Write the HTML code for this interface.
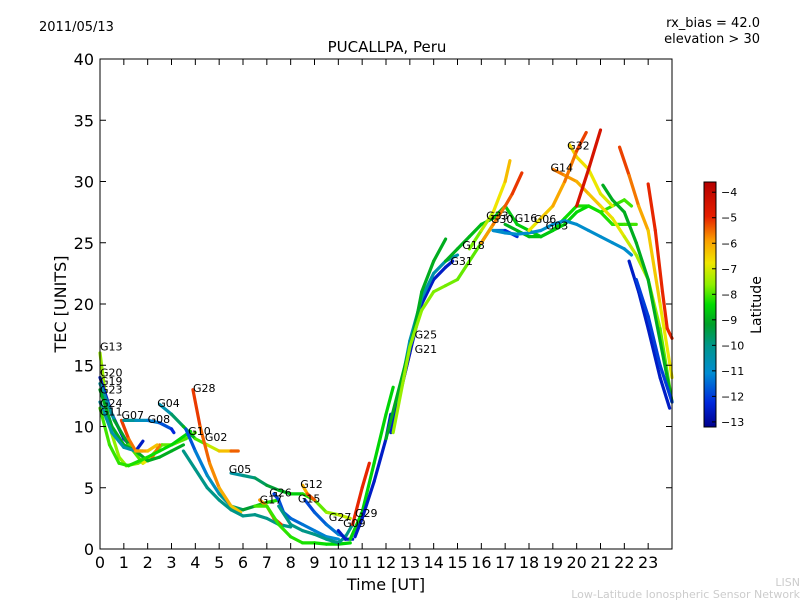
<!DOCTYPE html>
<html><head><meta charset="utf-8"><style>
body{margin:0;background:#fff;}
svg text{font-family:"DejaVu Sans","Liberation Sans",sans-serif;}
</style></head><body>
<svg id="chart" width="800" height="600" xmlns="http://www.w3.org/2000/svg">
<defs>
<linearGradient id="cbgrad" x1="0" y1="1" x2="0" y2="0">
<stop offset="0" stop-color="rgb(0,0,140)"/><stop offset="0.1" stop-color="rgb(0,40,220)"/>
<stop offset="0.22" stop-color="rgb(0,140,210)"/><stop offset="0.33" stop-color="rgb(0,150,140)"/>
<stop offset="0.42" stop-color="rgb(0,160,40)"/><stop offset="0.5" stop-color="rgb(0,220,0)"/>
<stop offset="0.58" stop-color="rgb(140,240,0)"/><stop offset="0.67" stop-color="rgb(240,230,0)"/>
<stop offset="0.76" stop-color="rgb(250,160,0)"/><stop offset="0.86" stop-color="rgb(230,30,0)"/>
<stop offset="1" stop-color="rgb(180,0,0)"/>
</linearGradient>
</defs>
<text x="39" y="31" font-size="13">2011/05/13</text>
<text x="760" y="27" font-size="13" text-anchor="end">rx_bias = 42.0</text>
<text x="760" y="43" font-size="13" text-anchor="end">elevation &gt; 30</text>
<text x="387" y="52" font-size="15" text-anchor="middle">PUCALLPA, Peru</text>
<g id="marks"></g>
<g id="axes"></g>
<rect x="100" y="59" width="572" height="490" fill="none" stroke="#000" stroke-width="1"/>
<text x="386" y="590" font-size="16" text-anchor="middle">Time [UT]</text>
<text transform="translate(66,304) rotate(-90)" font-size="16" text-anchor="middle">TEC [UNITS]</text>
<rect x="704" y="182" width="12" height="245" fill="url(#cbgrad)" stroke="#000" stroke-width="1"/>
<g id="cbticks"></g>
<text transform="translate(761,305) rotate(-90)" font-size="14" text-anchor="middle">Latitude</text>
<text x="800" y="586" font-size="11" fill="#ccc" text-anchor="end">LISN</text>
<text x="800" y="598" font-size="11" fill="#ccc" text-anchor="end">Low-Latitude Ionospheric Sensor Network</text>
</svg>
<script>
const xTicks=[0,1,2,3,4,5,6,7,8,9,10,11,12,13,14,15,16,17,18,19,20,21,22,23];
const yTicks=[0,5,10,15,20,25,30,35,40];
const cbTicks=[-4,-5,-6,-7,-8,-9,-10,-11,-12,-13];
const trackT=[
[0,0.4,0.8,1.1,1.6,2.1,2.6,3,3.6,4],
[0,0.5,1,1.5,1.8],
[0,0.6,1.2,1.8,2.2,2.5],
[0,0.5,1,1.5,2,2.5,3,3.5],
[0,0.5,1,1.5,1.8],
[0,0.4,0.8,1.2,2,2.5,3,3.8],
[0.9,1.2,1.5,2,2.4],
[1,1.5,2,2.5,3,3.1],
[2.5,3,3.5,4,4.5,5,5.5,5.8],
[3.6,4,4.5,5,5.5,6,6.5,7,7.5],
[3.9,4.2,4.6,5,5.5,5.9],
[3.5,4,4.5,5,5.5,6,6.5,7,7.5,8],
[5.5,6,6.5,7,7.5,8,8.5,9,9.5,10,10.5],
[6.7,7,7.3,7.6],
[7.3,7.5,7.7,8,8.5,9,9.5,10],
[8.5,8.7,9],
[8.6,9,9.5,10,10.3],
[6.5,7,7.5,8,8.5,9,9.5,10,10.5],
[7.5,8,8.5,9,9.5,10,10.3,10.6],
[10,10.3,10.6],
[10.5,11,11.5,12,12.3],
[10.6,11,11.3],
[10.7,11,11.5,12,12.2],
[12.5,13,13.3,13.5],
[12.2,13,13.5,14,14.5,14.8],
[12.5,13,13.5,14,14.5,15],
[12,12.8,13.2,13.5,14,14.5],
[12.3,13,13.5,14,14.5,15,15.5,16,16.5],
[14.5,15,15.5,16,16.5,17,17.5,18,18.5,19,19.5,20,20.5,21,21.5,22,22.3],
[15.5,16,16.5,17,17.2],
[16,16.5,17,17.3,17.7],
[16.5,17,17.5],
[17,17.5,18,18.5,19,19.5,20,20.5,21,21.5,22,22.5],
[16.5,17,17.5,18,18.5,19,19.5,20,20.5,21,21.5,22,22.3],
[19,19.5,20,20.5,21,21.5,22,22.5,23,23.5,24],
[19.7,20,20.5,21,21.5],
[18,18.5,19,19.5,20,20.4],
[20,20.5,21],
[21.1,21.5,22,22.5,23,23.5,24],
[21.8,22.2,22.6,23,23.5,24],
[23,23.3,23.6,23.8,24],
[22.2,22.6,23,23.5,23.9],
[22.5,23,23.5,24]
];
const trackV=[
[16,10,7.5,6.8,7,7.5,8.5,8.5,9,9.5],
[14,11,9,8,8.8],
[13.5,10.5,8.5,7,7.5,8.5],
[13,10,8.5,8,7.2,7.5,8,8.5],
[12,9.5,8.3,8,8],
[11.5,8.5,7,6.8,7.5,8,8.5,9.6],
[10.5,9,8,8,8.5],
[10.5,10.5,10.5,10.3,9.8,9.5],
[11.8,11,10,9,8.5,8,8,8],
[9.8,8,6,4.5,3.5,3.2,3.5,3.8,4],
[13,10,7,5,3.5,3],
[8,6.5,5,4,3.2,2.7,2.8,2.5,2,1.8],
[6.2,6,5.8,5.2,4.8,4.5,4.5,4,3,2.8,2.5],
[4,3.5,2.5,2],
[4.5,4,3,2.5,2,1.5,1,0.8],
[5.2,4.5,4],
[4,3,2,1.2,1],
[3.5,3.5,2,1,0.5,0.5,0.4,0.4,0.5],
[3.5,2,1.5,1.2,0.8,0.5,1,2],
[1.5,0.8,0.8],
[0.8,3,7,11,13.2],
[2,5,7],
[1,2.5,5.5,9,11],
[12,16,19,20.5],
[9.5,16,20,22,23,23.5],
[12,17,20.5,22.5,23.5,24],
[9,15,18,21,23.5,25.3],
[9.5,16.5,19.5,21,21.5,22,23.5,25,26.5],
[23.5,24.5,25.5,26.5,27,28,26.5,26,25.5,26,27,28,28,27.5,28,28.5,28],
[24.5,26,27.5,30,31.7],
[25,26.5,28,29,30.7],
[26,26,25.5],
[26.5,26,25.5,25.5,26,26.5,27.5,28,27.5,26.5,26.5,26.5],
[26,25.8,25.7,25.8,26,26.5,26.8,26.5,26,25.5,25,24.5,24],
[31,30.5,30,29,28,27,25.5,24,22,18,12],
[33,32,31,29,28],
[26,27,28,30,32.5,34],
[28,31,34.2],
[29.7,28.5,27.5,25,22,17,12],
[32.8,30.5,28,26,20,14],
[29.8,26,21,18,17.2],
[23.5,21,18,14,11.5],
[22,19,15,12]
];
const trackLatStart=[-7.5,-12.5,-11,-9,-10.5,-8,-5,-10,-11,-12,-5,-10,-10.5,-6,-12,-6.5,-12,-8,-10,-12.5,-8.5,-5,-12.5,-5,-12.5,-10.5,-9,-7.5,-9,-8,-6,-11,-9,-11,-5.5,-6.5,-7,-4.5,-9,-5,-5,-12.5,-12];
const trackLatEnd=[-8,-12.5,-5,-9,-10.5,-8.5,-6.5,-12.5,-5,-8,-6.5,-10,-7,-5,-11,-5,-11,-8.5,-10,-12.5,-8.5,-5,-12.5,-5,-12.5,-10.5,-9,-8,-8,-6,-5,-12.5,-8,-11,-8,-7,-5,-4.5,-9,-7,-5,-12.5,-12];
const labelText=["G13","G20","G19","G23","G24","G11","G07","G08","G04","G28","G10","G02","G05","G26","G17","G12","G15","G27","G09","G29","G25","G21","G31","G18","G33","G30","G16","G06","G03","G14","G32"];
const labelT=[0,0,0,0,0,0,0.9,2,2.4,3.9,3.7,4.4,5.4,7.1,6.7,8.4,8.3,9.6,10.2,10.7,13.2,13.2,14.7,15.2,16.2,16.4,17.4,18.2,18.7,18.9,19.6];
const labelV=[16.2,14.1,13.4,12.7,11.6,10.9,10.6,10.3,11.6,12.8,9.3,8.8,6.2,4.3,3.7,5,3.8,2.3,1.8,2.6,17.2,16,23.2,24.5,26.9,26.6,26.7,26.6,26.1,30.8,32.6];

const X=t=>100+t*572/24, Y=v=>549-v*490/40;
const latMin=-13.2, latMax=-3.6;
const cStops=[[0,0,0,140],[0.1,0,40,220],[0.22,0,140,210],[0.33,0,150,140],[0.42,0,160,40],[0.5,0,220,0],[0.58,140,240,0],[0.67,240,230,0],[0.76,250,160,0],[0.86,230,30,0],[1,180,0,0]];
function col(lat){let f=(lat-latMin)/(latMax-latMin);f=Math.max(0,Math.min(1,f));
for(let i=1;i<cStops.length;i++){if(f<=cStops[i][0]){const a=cStops[i-1],b=cStops[i],u=(f-a[0])/(b[0]-a[0]);
return `rgb(${Math.round(a[1]+u*(b[1]-a[1]))},${Math.round(a[2]+u*(b[2]-a[2]))},${Math.round(a[3]+u*(b[3]-a[3]))})`;}}return 'rgb(180,0,0)';}
const NS="http://www.w3.org/2000/svg";
const marks=document.getElementById('marks');
for(let k=0;k<trackT.length;k++){
 const g=document.createElementNS(NS,'g');
 
 
 const n=trackT[k].length;
 for(let i=0;i<n-1;i++){
  const u=(i+0.5)/(n-1);const lat=trackLatStart[k]+u*(trackLatEnd[k]-trackLatStart[k]);
  const l=document.createElementNS(NS,'line');
  
  
  l.setAttribute('x1',X(trackT[k][i]));l.setAttribute('y1',Y(trackV[k][i]));
  l.setAttribute('x2',X(trackT[k][i+1]));l.setAttribute('y2',Y(trackV[k][i+1]));
  l.setAttribute('stroke',col(lat));l.setAttribute('stroke-width','3.2');l.setAttribute('stroke-linecap','round');
  g.appendChild(l);
 }
 marks.appendChild(g);
}
for(let i=0;i<labelText.length;i++){
 const t=document.createElementNS(NS,'text');
 
 
 t.setAttribute('x',X(labelT[i]));t.setAttribute('y',Y(labelV[i]));t.setAttribute('font-size','11');
 t.textContent=labelText[i];marks.appendChild(t);
}
const axes=document.getElementById('axes');
function add(tag,attrs,txt){const e=document.createElementNS(NS,tag);for(const k in attrs)e.setAttribute(k,attrs[k]);if(txt!==undefined)e.textContent=txt;axes.appendChild(e);return e;}
xTicks.forEach(t=>{
 const a=add('line',{x1:X(t),x2:X(t),y1:549,y2:543,stroke:'#000'});
 
 
 const b=add('line',{x1:X(t),x2:X(t),y1:59,y2:65,stroke:'#000'});
 
 
 const c=add('text',{x:X(t),y:568,'font-size':16,'text-anchor':'middle'},String(t));
 
 
});
yTicks.forEach(v=>{
 const a=add('line',{x1:100,x2:106,y1:Y(v),y2:Y(v),stroke:'#000'});
 
 
 const b=add('line',{x1:666,x2:672,y1:Y(v),y2:Y(v),stroke:'#000'});
 
 
 const c=add('text',{x:94,y:Y(v)+6,'font-size':16,'text-anchor':'end'},String(v));
 
 
});
const cb=document.getElementById('cbticks');
const CY=l=>427-(l-latMin)*245/(latMax-latMin);
cbTicks.forEach(l=>{
 const a=document.createElementNS(NS,'line');
 
 
 a.setAttribute('x1',712);a.setAttribute('x2',716);a.setAttribute('y1',CY(l));a.setAttribute('y2',CY(l));a.setAttribute('stroke','#000');cb.appendChild(a);
 const t=document.createElementNS(NS,'text');
 
 
 t.setAttribute('x',721);t.setAttribute('y',CY(l)+4);t.setAttribute('font-size','11');t.textContent='\u2212'+Math.abs(l);cb.appendChild(t);
});
</script>
</body></html>
